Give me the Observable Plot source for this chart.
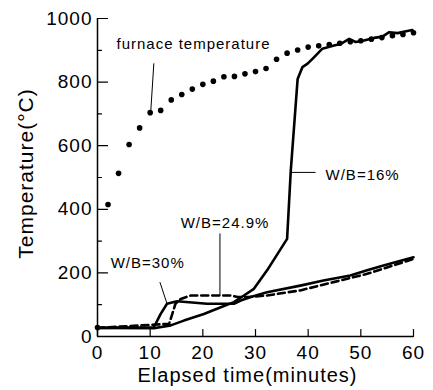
<!DOCTYPE html>
<html>
<head>
<meta charset="utf-8">
<script src="https://cdn.jsdelivr.net/npm/d3@7"></script>
<script src="https://cdn.jsdelivr.net/npm/@observablehq/plot@0.6"></script>
<style>
  html, body { margin: 0; padding: 0; background: white; }
  svg text { letter-spacing: 1px; }
</style>
</head>
<body>
<div id="chart"></div>
<script>
// Furnace temperature (dots)
const furnaceTime = [0, 2, 4, 6, 8, 10, 12, 14, 16, 18, 20, 22, 24, 26, 28, 30, 32, 34, 36, 38, 40, 42, 44, 46, 48, 50, 52, 54, 56, 58, 60];
const furnaceTemp = [28, 415, 513, 604, 656, 704, 711, 744, 761, 778, 793, 803, 817, 818, 826, 833, 843, 872, 891, 901, 910, 914, 918, 922, 927, 930, 935, 940, 946, 950, 955];

// W/B = 16% (solid)
const wb16Time = [0, 10.7, 13.9, 16.4, 20.2, 23.4, 25.9, 27.8, 29.7, 32.2, 36.0, 36.7, 38.0, 38.9, 39.9, 41.1, 42.7, 44.9, 46.2, 47.8, 49.0, 50.6, 52.5, 54.1, 55.4, 57.0, 58.6, 59.8];
const wb16Temp = [27, 26, 35, 50, 71, 92, 108, 129, 150, 208, 307, 522, 810, 847, 858, 878, 905, 915, 920, 936, 926, 931, 939, 943, 957, 954, 960, 964];

// W/B = 24.9% (dashed)
const wb249Time = [0, 13.6, 14.2, 14.8, 15.8, 17.7, 20.8, 25.3, 26.6, 28.5, 32.2, 38.5, 44.8, 51.2, 60];
const wb249Temp = [27, 40, 71, 103, 118, 129, 129, 129, 124, 124, 129, 145, 171, 197, 244];

// W/B = 30% (solid)
const wb30Time = [0, 10.7, 12.0, 13.2, 15.1, 20.8, 25.9, 27.2, 29.1, 32.2, 38.5, 42.9, 48.0, 51.2, 54.3, 60];
const wb30Temp = [27, 29, 71, 103, 111, 103, 103, 113, 124, 139, 160, 176, 192, 208, 223, 249];

// Annotations
const noteText = ["furnace temperature", "W/B=16%", "W/B=24.9%", "W/B=30%"];
const noteTime = [3.6, 43.3, 15.8, 2.5];
const noteTemp = [918, 506, 355, 230];
const leaderTime1 = [10.7, 36.7, 23.25, 11.85];
const leaderTemp1 = [859, 516, 324, 171];
const leaderTime2 = [10.1, 41.4, 23.25, 13.2];
const leaderTemp2 = [705, 516, 129, 103];

// Axis ticks
const xTicks = [0, 10, 20, 30, 40, 50, 60];
const yMajor = [0, 200, 400, 600, 800, 1000];
const yMinor = [100, 300, 500, 700, 900];

const toRows = (xs, ys) => xs.map((x, i) => ({x, y: ys[i]}));
const furnace = toRows(furnaceTime, furnaceTemp);
const wb16 = toRows(wb16Time, wb16Temp);
const wb249 = toRows(wb249Time, wb249Temp);
const wb30 = toRows(wb30Time, wb30Temp);
const notes = noteText.map((t, i) => ({t, x: noteTime[i], y: noteTemp[i]}));
const leaders = leaderTime1.map((x1, i) => ({x1, y1: leaderTemp1[i], x2: leaderTime2[i], y2: leaderTemp2[i]}));

const tickLine = {draw(context, l) { context.moveTo(0, 0); context.lineTo(0, -l); }};

const chart = Plot.plot({
  width: 433,
  height: 390,
  marginLeft: 97,
  marginRight: 20,
  marginTop: 18,
  marginBottom: 54,
  style: {fontFamily: "'Liberation Sans', Arial, sans-serif", background: "white", color: "black"},
  x: {domain: [0, 60]},
  y: {domain: [0, 1000]},
  marks: [
    Plot.ruleX([0], {y1: 0, y2: 1000, stroke: "black", strokeWidth: 1.5}),
    Plot.ruleY([0], {x1: 0, x2: 60, stroke: "black", strokeWidth: 1.5}),
    Plot.vector(xTicks, {x: d => d, y: 0, length: 7, rotate: 0, anchor: "start", shape: tickLine, stroke: "black", strokeWidth: 1.2}),
    Plot.vector(yMajor, {x: 0, y: d => d, length: 10, rotate: 90, anchor: "start", shape: tickLine, stroke: "black", strokeWidth: 1.2}),
    Plot.vector(yMinor, {x: 0, y: d => d, length: 4, rotate: 90, anchor: "start", shape: tickLine, stroke: "black", strokeWidth: 1.2}),
    Plot.axisX({ticks: xTicks, tickSize: 0, tickPadding: 9, fontSize: 19, label: null, tickFormat: d => String(d)}),
    Plot.axisY({ticks: yMajor, tickSize: 0, tickPadding: 5, fontSize: 19, label: null, tickFormat: d => String(d)}),
    Plot.text(["Elapsed time(minutes)"], {frameAnchor: "bottom", dy: 39, dx: -8, fontSize: 20, lineAnchor: "middle", fill: "black"}),
    Plot.text(["Temperature(°C)"], {frameAnchor: "left", dx: -71, dy: -4, rotate: -90, fontSize: 21, textAnchor: "middle", lineAnchor: "middle", fill: "black"}),
    Plot.line(wb30, {x: "x", y: "y", stroke: "black", strokeWidth: 2.6}),
    Plot.line(wb249, {x: "x", y: "y", stroke: "black", strokeWidth: 2.6, strokeDasharray: "7,4"}),
    Plot.line(wb16, {x: "x", y: "y", stroke: "black", strokeWidth: 2.6}),
    Plot.dot(furnace, {x: "x", y: "y", r: 2.8, fill: "black"}),
    Plot.link(leaders, {x1: "x1", y1: "y1", x2: "x2", y2: "y2", stroke: "black", strokeWidth: 1}),
    Plot.text(notes, {x: "x", y: "y", text: "t", textAnchor: "start", fontSize: 15, fill: "black"})
  ]
});
document.getElementById("chart").appendChild(chart);
</script>
</body>
</html>
